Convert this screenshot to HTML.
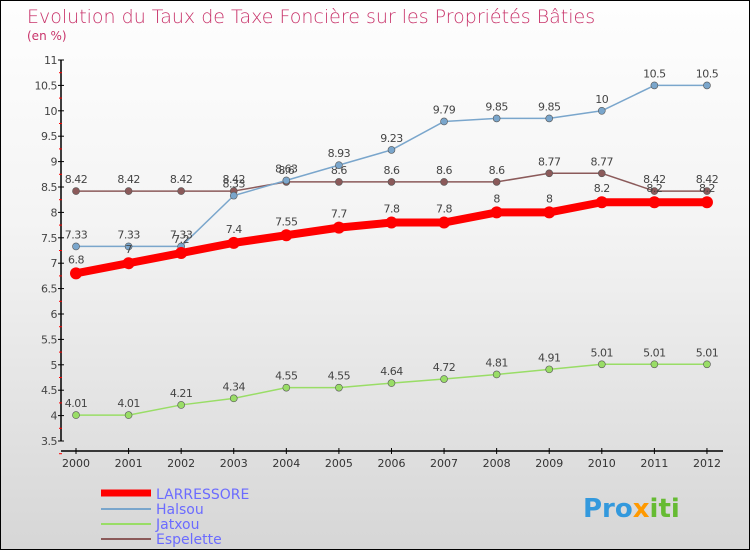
<!DOCTYPE html>
<html><head><meta charset="utf-8"><style>
body{margin:0}
#c{width:748px;height:548px;border:1px solid #000;background:linear-gradient(#fefefe,#f4f4f4 40%,#d6d6d6);position:relative;overflow:hidden;font-family:"DejaVu Sans","Liberation Sans",sans-serif}
</style></head><body>
<div id="c">
<svg id="s" width="748" height="548">
<text x="26" y="22" font-size="19" fill="#c8336a" font-weight="300">Evolution du Taux de Taxe Foncière sur les Propriétés Bâties</text>
<text x="26" y="39" font-size="12" fill="#c8336a">(en %)</text>
<g id="ax"></g><g id="ser"></g>
<g>
<line x1="100" y1="492" x2="150" y2="492" stroke="#f00" stroke-width="7"/>
<line x1="100" y1="508" x2="150" y2="508" stroke="#7aa6cc" stroke-width="2"/>
<line x1="100" y1="523" x2="150" y2="523" stroke="#99dd66" stroke-width="2"/>
<line x1="100" y1="538" x2="150" y2="538" stroke="#8b5a5a" stroke-width="2"/>
<text x="155" y="498" font-size="14" fill="#6b6bff">LARRESSORE</text>
<text x="155" y="513" font-size="14" fill="#6b6bff">Halsou</text>
<text x="155" y="528" font-size="14" fill="#6b6bff">Jatxou</text>
<text x="155" y="543" font-size="14" fill="#6b6bff">Espelette</text>
</g>
<text x="582" y="516" font-size="26" font-weight="bold" fill="#3399dd">Pro<tspan fill="#ff9900">x</tspan><tspan fill="#66bb33">iti</tspan></text>
</svg></div>
<script>
const years=[2000,2001,2002,2003,2004,2005,2006,2007,2008,2009,2010,2011,2012];
const yTicks=[3.5,4,4.5,5,5.5,6,6.5,7,7.5,8,8.5,9,9.5,10,10.5,11];
const larressore=[6.8,7,7.2,7.4,7.55,7.7,7.8,7.8,8,8,8.2,8.2,8.2];
const halsou=[7.33,7.33,7.33,8.33,8.63,8.93,9.23,9.79,9.85,9.85,10,10.5,10.5];
const jatxou=[4.01,4.01,4.21,4.34,4.55,4.55,4.64,4.72,4.81,4.91,5.01,5.01,5.01];
const espelette=[8.42,8.42,8.42,8.42,8.6,8.6,8.6,8.6,8.6,8.77,8.77,8.42,8.42];
const NS='http://www.w3.org/2000/svg';
const X=i=>75+i*52.58, Y=v=>440-(v-3.5)*50.8;
function mk(t,a,p){const e=document.createElementNS(NS,t);for(const k in a)e.setAttribute(k,a[k]);p.appendChild(e);return e;}
const ax=document.getElementById('ax'),ser=document.getElementById('ser');
let l=mk('line',{x1:60,y1:59,x2:60,y2:440,stroke:'#000','stroke-width':1.5},ax);


l=mk('line',{x1:60,y1:450,x2:722,y2:450,stroke:'#000','stroke-width':1.5},ax);


yTicks.forEach(v=>{const y=Y(v);
mk('line',{x1:57,y1:y,x2:63,y2:y,stroke:'#000'},ax);
mk('line',{x1:58,y1:y+12.7,x2:61,y2:y+12.7,stroke:'#f00'},ax);
const t=mk('text',{x:56,y:y+4,'font-size':11,fill:'#444','text-anchor':'end','letter-spacing':'-0.5'},ax);t.textContent=v;

});
years.forEach((yr,i)=>{const x=X(i);mk('line',{x1:x,y1:447,x2:x,y2:453,stroke:'#000'},ax);
const t=mk('text',{x:x,y:466,'font-size':11,fill:'#333','text-anchor':'middle'},ax);t.textContent=yr;

});
function series(d,col,w,r,name,labOff){const g=mk('g',{},ser);


mk('polyline',{points:d.map((v,i)=>X(i)+','+Y(v)).join(' '),fill:'none',stroke:col,'stroke-width':w,'stroke-linejoin':'round'},g);
d.forEach((v,i)=>{const c=mk('circle',{cx:X(i),cy:Y(v),r:r,fill:col,stroke:'#555','stroke-width':r>4?0:0.6},g);


const t=mk('text',{x:X(i),y:Y(v)+labOff,'font-size':11,fill:'#444','text-anchor':'middle','letter-spacing':'-0.5'},g);t.textContent=v;});}
series(jatxou,'#99dd66',1.5,3.5,'jatxou',-8);
series(espelette,'#8b5a5a',1.5,3.5,'espelette',-8);
series(halsou,'#7aa6cc',1.5,3.5,'halsou',-8);
series(larressore,'#f00',8,6,'larressore',-10);
</script>
</body></html>
